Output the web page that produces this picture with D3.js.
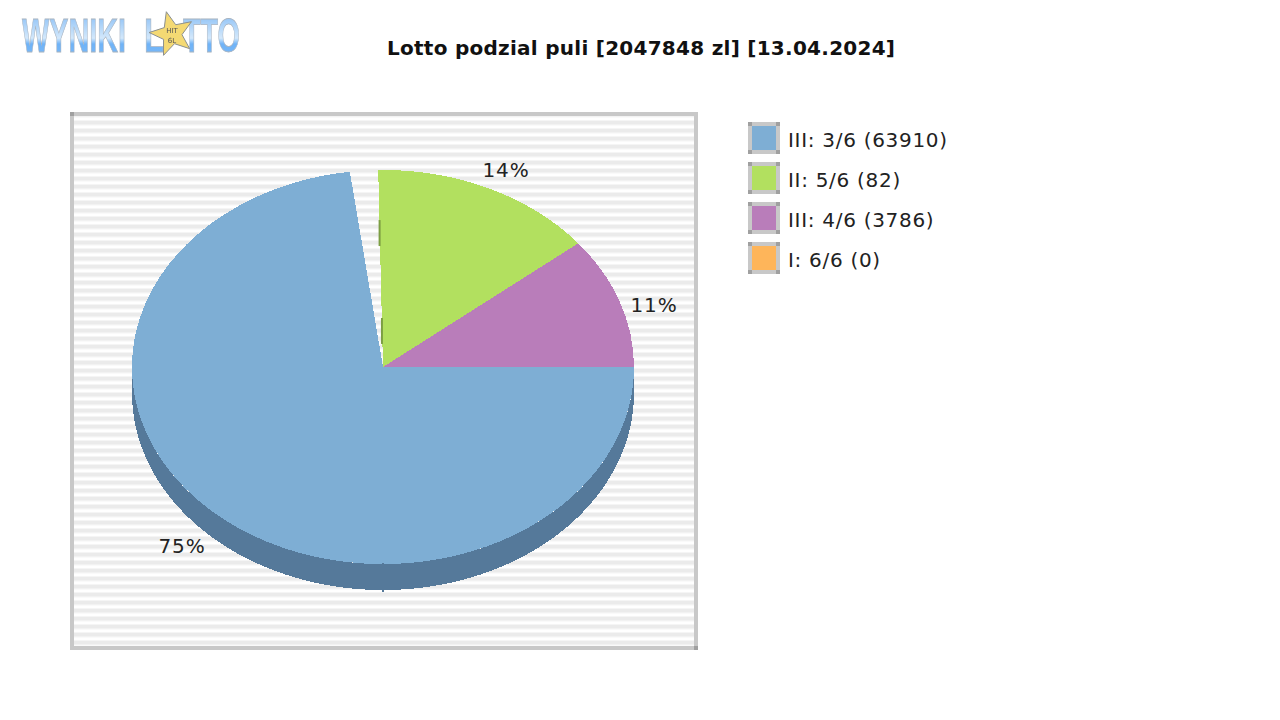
<!DOCTYPE html>
<html>
<head>
<meta charset="utf-8">
<script src="https://cdn.jsdelivr.net/npm/d3@7"></script>
<style>
  html, body { margin: 0; background: #fff; }
  text { font-family: "DejaVu Sans", sans-serif; }
</style>
</head>
<body>
<div id="chart"></div>
<script>
// data
var title = 'Lotto podzial puli [2047848 zl] [13.04.2024]';
var legend_labels = ['III: 3/6 (63910)', 'II: 5/6 (82)', 'III: 4/6 (3786)', 'I: 6/6 (0)'];
var slice_colors = ['#7eaed4', '#b2e05f', '#b97dba', '#feb55a'];
var slice_labels = ['75%', '14%', '11%', ''];
// drawn shares in %, the reference pie leaves a small gap between blue and green
var slice_shares = [72.9, 14.5, 10.8, 0];
var gap_share = 1.8;

var chart_width = 1280;
var chart_height = 720;

var svg = d3.select('#chart')
  .append('svg')
  .attr('width', chart_width)
  .attr('height', chart_height)
  .style('display', 'block');

var defs = svg.append('defs');

// striped plot background
var stripes = defs.append('pattern')
  .attr('id', 'stripes')
  .attr('patternUnits', 'userSpaceOnUse')
  .attr('width', 8)
  .attr('height', 8)
  .attr('y', 1);
var stripe_colors = ['#ebebeb', '#ebebeb', '#ebebeb', '#f2f2f2', '#fafafa', '#ffffff', '#ffffff', '#f5f5f5'];
stripes.selectAll('rect')
  .data(stripe_colors)
  .enter()
  .append('rect')
  .attr('x', 0)
  .attr('y', function(d, i) { return i; })
  .attr('width', 8)
  .attr('height', 1)
  .attr('fill', function(d) { return d; });

// logo gradient
var logo_grad = defs.append('linearGradient')
  .attr('id', 'logo_grad')
  .attr('x1', 0).attr('y1', 0).attr('x2', 0).attr('y2', 1);
logo_grad.append('stop').attr('offset', '0%').attr('stop-color', '#7db8f5');
logo_grad.append('stop').attr('offset', '55%').attr('stop-color', '#d3e8fb');
logo_grad.append('stop').attr('offset', '66%').attr('stop-color', '#6fb3f7');
logo_grad.append('stop').attr('offset', '100%').attr('stop-color', '#7dbaf7');

defs.append('filter')
  .attr('id', 'soft')
  .append('feGaussianBlur')
  .attr('stdDeviation', 0.5);

// logo, the star hides the O of LOTTO
var logo = svg.append('g').attr('filter', 'url(#soft)');
var logo_words = [
  { text: 'L', x: 144, len: 20 },
  { text: 'WYNIKI', x: 22, len: 104 },
  { text: 'TTO', x: 183, len: 57 }
];
logo.selectAll('text.word')
  .data(logo_words)
  .enter()
  .append('text')
  .attr('class', 'word')
  .text(function(d) { return d.text; })
  .attr('x', function(d) { return d.x; })
  .attr('y', 52)
  .attr('textLength', function(d) { return d.len; })
  .attr('lengthAdjust', 'spacingAndGlyphs')
  .attr('font-size', 48)
  .attr('font-weight', 'bold')
  .style('font-family', '"Liberation Sans", sans-serif')
  .attr('fill', 'url(#logo_grad)')
  .attr('stroke', '#a9b4c0')
  .attr('stroke-width', 0.8);

var star_angles = d3.range(10).map(function(i) { return i * Math.PI / 5 - 0.25; });
var star = d3.lineRadial()
  .angle(function(d) { return d; })
  .radius(function(d, i) { return i % 2 ? 10 : 23; })
  .curve(d3.curveLinearClosed);
logo.append('path')
  .attr('d', star(star_angles))
  .attr('transform', 'translate(172,34)')
  .attr('fill', '#f4d973')
  .attr('stroke', '#8a8f8f')
  .attr('stroke-width', 1);
logo.selectAll('text.star')
  .data(['HIT', '6L'])
  .enter()
  .append('text')
  .attr('class', 'star')
  .text(function(d) { return d; })
  .attr('x', 172)
  .attr('y', function(d, i) { return 33 + i * 10; })
  .attr('text-anchor', 'middle')
  .attr('font-size', 7)
  .attr('fill', '#555');

// title
svg.append('text')
  .text(title)
  .attr('x', 641)
  .attr('y', 55)
  .attr('text-anchor', 'middle')
  .attr('font-size', 20)
  .attr('font-weight', 'bold')
  .attr('fill', '#111')
  .attr('textLength', 508)
  .attr('lengthAdjust', 'spacing');

// plot frame
var frame_color = '#c8c8c8';
var frame_corner = '#a0a0a0';
svg.append('rect')
  .attr('x', 72)
  .attr('y', 114)
  .attr('width', 624)
  .attr('height', 534)
  .attr('fill', 'url(#stripes)')
  .attr('stroke', frame_color)
  .attr('stroke-width', 4);
svg.selectAll('rect.corner')
  .data([[70, 112], [694, 646]])
  .enter()
  .append('rect')
  .attr('class', 'corner')
  .attr('x', function(d) { return d[0]; })
  .attr('y', function(d) { return d[1]; })
  .attr('width', 4)
  .attr('height', 4)
  .attr('fill', frame_corner);

// pie scales, unit circle to the squashed ellipse
var pie_cx = 383, pie_cy = 367, pie_rx = 251, pie_ry = 197, pie_depth = 26;
var x_scale = d3.scaleLinear().domain([-1, 1]).range([pie_cx - pie_rx, pie_cx + pie_rx]);
var y_scale = d3.scaleLinear().domain([-1, 1]).range([pie_cy - pie_ry, pie_cy + pie_ry]);

// pie, clockwise from east: blue, gap, green, purple
var pie_values = [
  { share: slice_shares[0], color: slice_colors[0] },
  { share: gap_share, color: 'none' },
  { share: slice_shares[1], color: slice_colors[1] },
  { share: slice_shares[2], color: slice_colors[2] }
];
var pie = d3.pie()
  .value(function(d) { return d.share; })
  .sort(null)
  .startAngle(Math.PI / 2)
  .endAngle(Math.PI / 2 + 2 * Math.PI);
var arc = d3.arc().innerRadius(0).outerRadius(1);

// side wall below the front half, in darker blue
var wall_color = '#55799a';
var wall_angles = d3.range(0, 181, 1).map(function(d) { return d * Math.PI / 180; });
var wall_top = wall_angles.map(function(a) {
  return [x_scale(Math.cos(a)), y_scale(Math.sin(a))];
});
var wall_bottom = wall_angles.slice().reverse().map(function(a) {
  return [x_scale(Math.cos(a)), y_scale(Math.sin(a)) + pie_depth];
});
svg.append('path')
  .attr('d', d3.line()(wall_top.concat(wall_bottom)) + 'Z')
  .attr('fill', wall_color)
  .attr('shape-rendering', 'crispEdges');

svg.append('g')
  .attr('transform', 'translate(' + pie_cx + ',' + pie_cy + ') scale(' + pie_rx + ',' + pie_ry + ')')
  .selectAll('path')
  .data(pie(pie_values))
  .enter()
  .append('path')
  .attr('d', arc)
  .attr('fill', function(d) { return d.data.color; })
  .attr('shape-rendering', 'crispEdges');

// small dark slivers left by the 3d drawing, on the green slice edge and the front wall
var green_edge = pie(pie_values)[2].startAngle;
var sliver_spans = [[0.614, 0.746], [0.117, 0.249]];
svg.selectAll('line.sliver')
  .data(sliver_spans)
  .enter()
  .append('line')
  .attr('class', 'sliver')
  .attr('x1', function(d) { return x_scale(d[0] * Math.sin(green_edge)) - 0.5; })
  .attr('x2', function(d) { return x_scale(d[0] * Math.sin(green_edge)) - 0.5; })
  .attr('y1', function(d) { return y_scale(-d[0] * Math.cos(green_edge)); })
  .attr('y2', function(d) { return y_scale(-d[1] * Math.cos(green_edge)); })
  .attr('stroke', '#7c9e43')
  .attr('stroke-width', 2);
svg.selectAll('line.notch')
  .data([[-1, 0], [pie_depth, pie_depth + 2]])
  .enter()
  .append('line')
  .attr('class', 'notch')
  .attr('x1', x_scale(0))
  .attr('x2', x_scale(0))
  .attr('y1', function(d) { return y_scale(1) + d[0]; })
  .attr('y2', function(d) { return y_scale(1) + d[1]; })
  .attr('stroke', wall_color)
  .attr('stroke-width', 2);

// percent labels
var label_pos = [[182, 553], [506, 177], [654, 312]];
svg.selectAll('text.pct')
  .data(label_pos)
  .enter()
  .append('text')
  .attr('class', 'pct')
  .text(function(d, i) { return slice_labels[i]; })
  .attr('x', function(d) { return d[0]; })
  .attr('y', function(d) { return d[1]; })
  .attr('text-anchor', 'middle')
  .attr('font-size', 20)
  .attr('letter-spacing', 0.9)
  .attr('fill', '#222');

// legend
var legend_y = d3.scaleBand()
  .domain(d3.range(legend_labels.length))
  .range([118, 278])
  .paddingInner(0);

var legend = svg.selectAll('g.legend')
  .data(legend_labels)
  .enter()
  .append('g')
  .attr('class', 'legend')
  .attr('transform', function(d, i) { return 'translate(748,' + (legend_y(i) + 4) + ')'; });

legend.append('rect')
  .attr('x', 2)
  .attr('y', 2)
  .attr('width', 28)
  .attr('height', 28)
  .attr('fill', function(d, i) { return slice_colors[i]; })
  .attr('stroke', frame_color)
  .attr('stroke-width', 4);

legend.selectAll('rect.corner')
  .data([[0, 0], [28, 0], [0, 28], [28, 28]])
  .enter()
  .append('rect')
  .attr('class', 'corner')
  .attr('x', function(d) { return d[0]; })
  .attr('y', function(d) { return d[1]; })
  .attr('width', 4)
  .attr('height', 4)
  .attr('fill', frame_corner);

legend.append('text')
  .text(function(d) { return d; })
  .attr('x', 40)
  .attr('y', 25)
  .attr('font-size', 20)
  .attr('letter-spacing', 0.7)
  .attr('fill', '#222');
</script>
</body>
</html>
